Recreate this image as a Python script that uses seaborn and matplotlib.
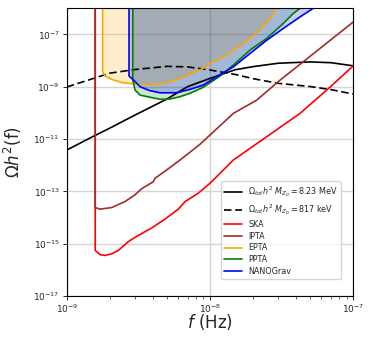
import matplotlib
matplotlib.use("Agg")
import matplotlib.pyplot as plt
import matplotlib.ticker as mticker
import seaborn as sns

# Omega_tot h^2, M_ZD = 8.23 MeV (solid) and 817 keV (dashed)
f_tot = [1e-9, 1.5e-9, 2e-9, 3e-9, 5e-9, 7e-9, 1e-8, 1.5e-8, 2e-8, 3e-8, 5e-8, 7e-8, 1e-7]
omega_823 = [3.8e-12, 1.2e-11, 2.63e-11, 8.3e-11, 3.39e-10, 1.02e-9, 2.09e-9, 4.47e-9,
             5.89e-9, 7.94e-9, 8.91e-9, 8.32e-9, 6.31e-9]
omega_817 = [9.8e-10, 2.0e-9, 3.31e-9, 4.57e-9, 6.03e-9, 5.75e-9, 4.37e-9, 2.95e-9,
             2.04e-9, 1.35e-9, 1.02e-9, 7.76e-10, 5.25e-10]

# PTA sensitivity curves
f_ska = [1.58e-9, 1.58e-9, 1.706e-9, 1.849e-9, 2.061e-9, 2.291e-9, 2.692e-9, 3.076e-9,
         3.917e-9, 4.853e-9, 6.012e-9, 6.699e-9, 8.279e-9, 1.0e-8, 1.455e-8, 2.489e-8,
         4.246e-8, 6.871e-8, 1e-7]
omega_ska = [1e-5, 5.5e-16, 3.8e-16, 3.55e-16, 4.07e-16, 5.5e-16, 1.2e-15, 1.9e-15,
             3.98e-15, 8.7e-15, 2.09e-14, 4.07e-14, 8.5e-14, 2.04e-13, 1.58e-12, 1.23e-11,
             9.55e-11, 9.55e-10, 6.31e-9]

f_ipta = [1.58e-9, 1.58e-9, 1.706e-9, 2.06e-9, 2.55e-9, 3.0e-9, 3.33e-9, 4.02e-9, 4.13e-9,
          4.99e-9, 6.18e-9, 8.51e-9, 1.455e-8, 2.12e-8, 3.08e-8, 5.26e-8, 1e-7]
omega_ipta = [1e-5, 2.4e-14, 2.09e-14, 2.4e-14, 4.07e-14, 7.41e-14, 1.26e-13, 2.34e-13,
              3.16e-13, 6.6e-13, 1.58e-12, 6.3e-12, 9.55e-11, 3.09e-10, 1.78e-9, 1.82e-8, 3.0e-7]

f_epta = [1.78e-9, 1.78e-9, 1.85e-9, 2.11e-9, 2.48e-9, 3.25e-9, 4.25e-9, 5.26e-9, 6.18e-9,
          7.24e-9, 8.97e-9, 1.0e-8, 1.31e-8, 1.71e-8, 2.23e-8, 2.62e-8, 2.92e-8, 3.55e-8]
omega_epta = [1e-5, 3.7e-9, 2.57e-9, 1.82e-9, 1.41e-9, 1.23e-9, 1.23e-9, 1.55e-9, 2.09e-9,
              3.02e-9, 5.01e-9, 7.76e-9, 1.62e-8, 4.57e-8, 1.45e-7, 4.07e-7, 1.0e-6, 2.5e-6]

f_ppta = [2.89e-9, 2.89e-9, 3.0e-9, 3.25e-9, 3.81e-9, 4.48e-9, 5.26e-9, 6.18e-9, 7.24e-9,
          8.97e-9, 1.175e-8, 1.455e-8, 1.9e-8, 2.49e-8, 3.25e-8, 3.81e-8, 4.25e-8, 5.25e-8]
omega_ppta = [1e-5, 1.82e-9, 7.41e-10, 4.79e-10, 3.98e-10, 3.31e-10, 3.39e-10, 4.17e-10,
              5.62e-10, 9.55e-10, 2.57e-9, 6.76e-9, 2.51e-8, 7.08e-8, 2.63e-7, 6.31e-7, 1.0e-6, 2.5e-6]

f_nano = [2.72e-9, 2.72e-9, 2.92e-9, 3.25e-9, 3.81e-9, 4.48e-9, 5.86e-9, 7.24e-9, 8.97e-9,
          1.11e-8, 1.455e-8, 1.9e-8, 2.49e-8, 3.25e-8, 4.25e-8, 5.26e-8, 6.76e-8]
omega_nano = [1e-5, 2.57e-9, 1.82e-9, 1.0e-9, 7.08e-10, 5.89e-10, 5.89e-10, 7.94e-10,
              1.15e-9, 2.4e-9, 5.75e-9, 1.86e-8, 6.03e-8, 1.7e-7, 4.68e-7, 1.0e-6, 2.5e-6]

sns.set_style("ticks")
fig, ax = plt.subplots(figsize=(3.73, 3.39), dpi=100)
fig.subplots_adjust(left=0.179, right=0.947, top=0.9755, bottom=0.127)

# filled regions above PTA curves
ax.fill_between(f_epta, omega_epta, 1e-5, color="orange", alpha=0.2, lw=0)
ax.fill_between(f_ppta, omega_ppta, 1e-5, color="green", alpha=0.2, lw=0)
ax.fill_between(f_nano, omega_nano, 1e-5, color="blue", alpha=0.2, lw=0)

lw = 1.2
sns.lineplot(x=f_tot, y=omega_823, color="black", lw=lw, sort=False, estimator=None,
             label=r"$\Omega_{tot}h^2\ M_{Z_D} = 8.23$ MeV", ax=ax)
sns.lineplot(x=f_tot, y=omega_817, color="black", lw=lw, sort=False, estimator=None,
             label=r"$\Omega_{tot}h^2\ M_{Z_D} = 817$ keV", ax=ax)
ax.lines[-1].set_linestyle((0, (4.5, 2.2)))
sns.lineplot(x=f_ska, y=omega_ska, color="red", lw=lw, sort=False, estimator=None, label="SKA", ax=ax)
sns.lineplot(x=f_ipta, y=omega_ipta, color="brown", lw=lw, sort=False, estimator=None, label="IPTA", ax=ax)
sns.lineplot(x=f_epta, y=omega_epta, color="orange", lw=lw, sort=False, estimator=None, label="EPTA", ax=ax)
sns.lineplot(x=f_ppta, y=omega_ppta, color="green", lw=lw, sort=False, estimator=None, label="PPTA", ax=ax)
sns.lineplot(x=f_nano, y=omega_nano, color="blue", lw=lw, sort=False, estimator=None, label="NANOGrav", ax=ax)

ax.set_xscale("log")
ax.set_yscale("log")
ax.set_xlim(1e-9, 1e-7)
ax.set_ylim(1e-17, 1e-6)
ax.set_yticks([1e-17, 1e-15, 1e-13, 1e-11, 1e-9, 1e-7])
ax.yaxis.set_minor_locator(mticker.NullLocator())
ax.tick_params(labelsize=6.5, length=3, width=0.7, pad=2)
ax.tick_params(which="minor", length=1.8, width=0.5)
ax.grid(True, which="major", color="#d5d5d5", lw=1)
ax.set_axisbelow(True)
for s in ax.spines.values():
    s.set_color("black")
    s.set_linewidth(0.8)

ax.set_xlabel(r"$f$ (Hz)", fontsize=12)
ax.set_ylabel(r"$\Omega h^2$(f)", fontsize=12)
ax.xaxis.set_label_coords(0.5, -0.057)
ax.yaxis.set_label_coords(-0.15, 0.5)

ax.legend(loc="lower right", bbox_to_anchor=(0.958, 0.058), borderaxespad=0, fontsize=5.8,
          labelspacing=0.35, handlelength=2.2, framealpha=0.8)

plt.savefig("out.png", dpi=100)
